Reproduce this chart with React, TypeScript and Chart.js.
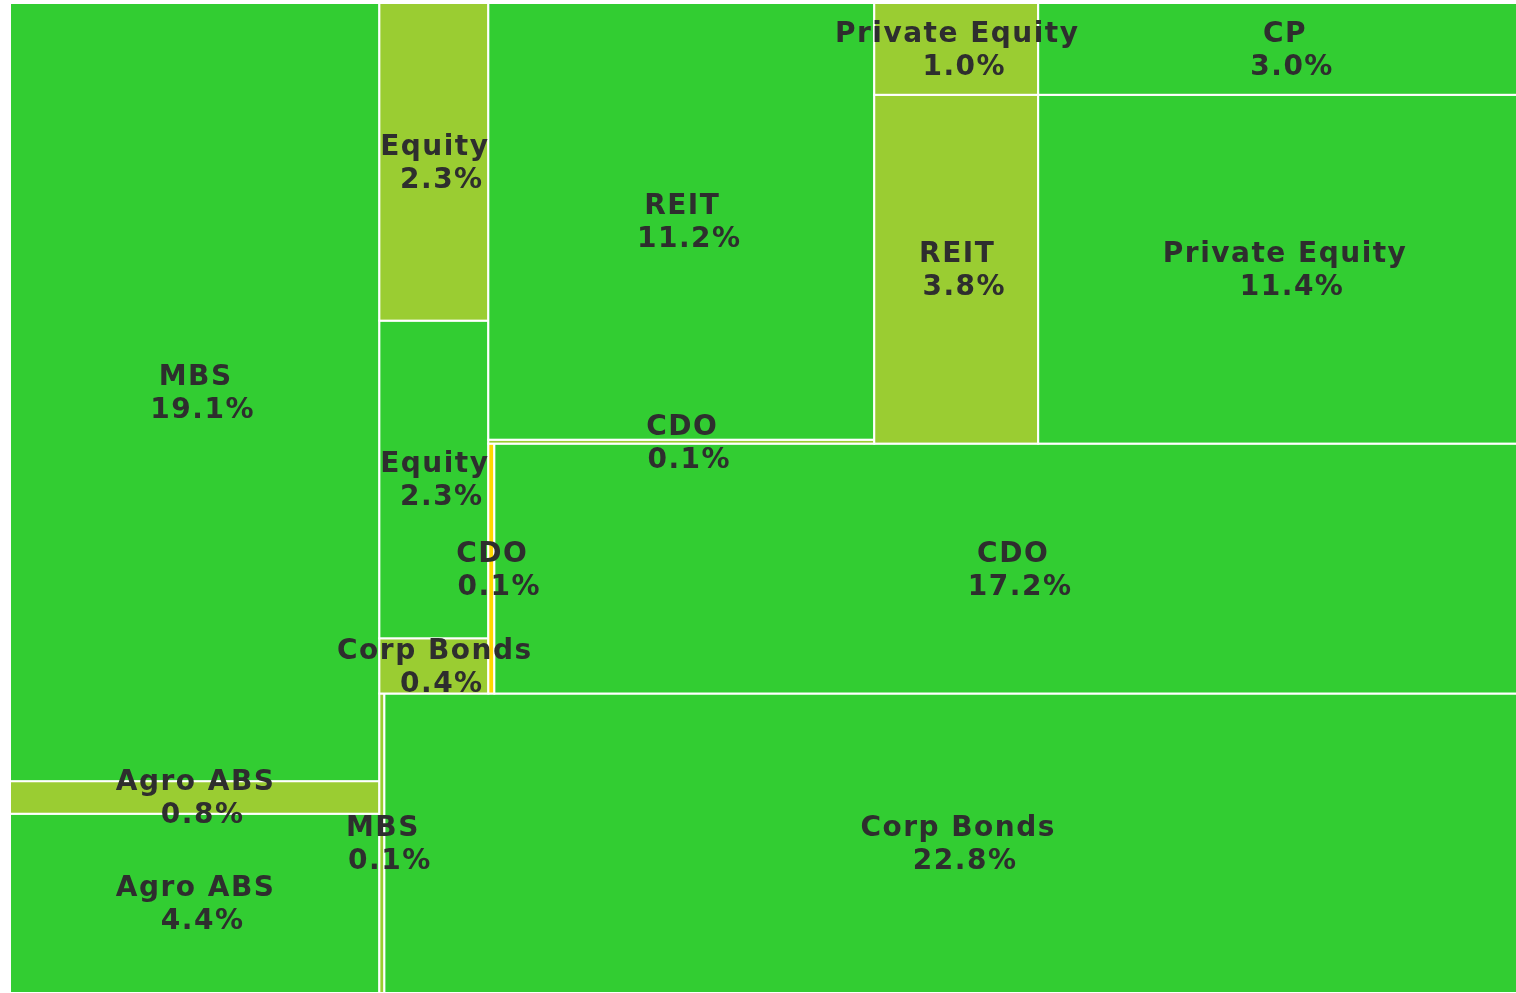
import { useEffect, useRef } from "react";
import { Chart, registerables } from "chart.js";

Chart.register(...registerables);

// Treemap cells, in layout order (squarify order)
const labels: string[] = [
  "Agro ABS", "Agro ABS", "MBS", "MBS", "Corp Bonds", "Corp Bonds",
  "Equity", "Equity", "CDO", "CDO", "CDO", "REIT", "REIT",
  "Private Equity", "Private Equity", "CP",
];
const values: number[] = [
  4.4, 0.8, 19.1, 0.1, 22.8, 0.4,
  2.3, 2.3, 0.1, 17.2, 0.1, 11.2, 3.8,
  11.4, 1.0, 3.0,
];
const tiers: number[] = [
  0, 1, 0, 1, 0, 1,
  0, 1, 2, 0, 1, 0, 1,
  0, 1, 0,
];
const tierColors: string[] = ["#32CD32", "#9ACD32", "#FFD700"];

type Rect = { x: number; y: number; dx: number; dy: number };

function layoutRow(sizes: number[], x: number, y: number, dx: number, dy: number): Rect[] {
  const covered = sizes.reduce((a, b) => a + b, 0);
  const width = covered / dy;
  const out: Rect[] = [];
  for (const s of sizes) {
    out.push({ x, y, dx: width, dy: s / width });
    y += s / width;
  }
  return out;
}
function layoutCol(sizes: number[], x: number, y: number, dx: number, dy: number): Rect[] {
  const covered = sizes.reduce((a, b) => a + b, 0);
  const height = covered / dx;
  const out: Rect[] = [];
  for (const s of sizes) {
    out.push({ x, y, dx: s / height, dy: height });
    x += s / height;
  }
  return out;
}
function layout(sizes: number[], x: number, y: number, dx: number, dy: number): Rect[] {
  return dx >= dy ? layoutRow(sizes, x, y, dx, dy) : layoutCol(sizes, x, y, dx, dy);
}
function leftover(sizes: number[], x: number, y: number, dx: number, dy: number): [number, number, number, number] {
  const covered = sizes.reduce((a, b) => a + b, 0);
  if (dx >= dy) {
    const width = covered / dy;
    return [x + width, y, dx - width, dy];
  }
  const height = covered / dx;
  return [x, y + height, dx, dy - height];
}
function worstRatio(sizes: number[], x: number, y: number, dx: number, dy: number): number {
  return Math.max(...layout(sizes, x, y, dx, dy).map((r) => Math.max(r.dx / r.dy, r.dy / r.dx)));
}
function squarify(sizes: number[], x: number, y: number, dx: number, dy: number): Rect[] {
  if (sizes.length === 0) return [];
  if (sizes.length === 1) return layout(sizes, x, y, dx, dy);
  let i = 1;
  while (i < sizes.length && worstRatio(sizes.slice(0, i), x, y, dx, dy) >= worstRatio(sizes.slice(0, i + 1), x, y, dx, dy)) i++;
  const current = sizes.slice(0, i);
  const remaining = sizes.slice(i);
  const [lx, ly, ldx, ldy] = leftover(current, x, y, dx, dy);
  return layout(current, x, y, dx, dy).concat(squarify(remaining, lx, ly, ldx, ldy));
}

const NORM = 100;
const total = values.reduce((a, b) => a + b, 0);
const rects: Rect[] = squarify(values.map((v) => (v * NORM * NORM) / total), 0, 0, NORM, NORM);

const treemapPlugin = {
  id: "treemapCells",
  afterDatasetsDraw(chart: any) {
    const xs = chart.scales.x;
    const ys = chart.scales.y;
    const ctx: CanvasRenderingContext2D = chart.ctx;
    ctx.save();
    rects.forEach((r, i) => {
      const l = xs.getPixelForValue(r.x);
      const rt = xs.getPixelForValue(r.x + r.dx);
      const t = ys.getPixelForValue(r.y + r.dy);
      const b = ys.getPixelForValue(r.y);
      ctx.fillStyle = tierColors[tiers[i]];
      ctx.fillRect(l, t, rt - l, b - t);
      ctx.strokeStyle = "#ffffff";
      ctx.lineWidth = 2;
      ctx.strokeRect(l, t, rt - l, b - t);
    });
    ctx.fillStyle = "#2e2e2e";
    ctx.font = "bold 28px 'DejaVu Sans'";
    (ctx as any).letterSpacing = "1.5px";
    ctx.textAlign = "center";
    ctx.textBaseline = "alphabetic";
    rects.forEach((r, i) => {
      const cx = xs.getPixelForValue(r.x + r.dx / 2);
      const cy = ys.getPixelForValue(r.y + r.dy / 2);
      ctx.fillText(labels[i], cx + 1, cy - 7);
      ctx.fillText(values[i].toFixed(1) + "%", cx + 8, cy + 26);
    });
    ctx.restore();
  },
};

export default function App() {
  const ref = useRef<HTMLCanvasElement | null>(null);
  useEffect(() => {
    if (!ref.current) return;
    const chart = new Chart(ref.current, {
      type: "scatter",
      data: {
        datasets: [
          {
            data: rects.map((r) => ({ x: r.x + r.dx / 2, y: r.y + r.dy / 2 })),
            pointRadius: 0,
            pointHoverRadius: 0,
          },
        ],
      },
      options: {
        animation: false,
        responsive: false,
        events: [],
        layout: { padding: { left: 10, top: 3, right: 0, bottom: 0 } },
        scales: {
          x: { type: "linear", min: 0, max: NORM, display: false },
          y: { type: "linear", min: 0, max: NORM, display: false },
        },
        plugins: { legend: { display: false }, tooltip: { enabled: false } },
      },
      plugins: [treemapPlugin],
    });
    return () => chart.destroy();
  }, []);
  return (
    <div style={{ position: "fixed", left: 0, top: 0, width: 1516, height: 993, overflow: "hidden", background: "#fff" }}>
      <canvas ref={ref} width={1530} height={993} style={{ display: "block" }} />
    </div>
  );
}
